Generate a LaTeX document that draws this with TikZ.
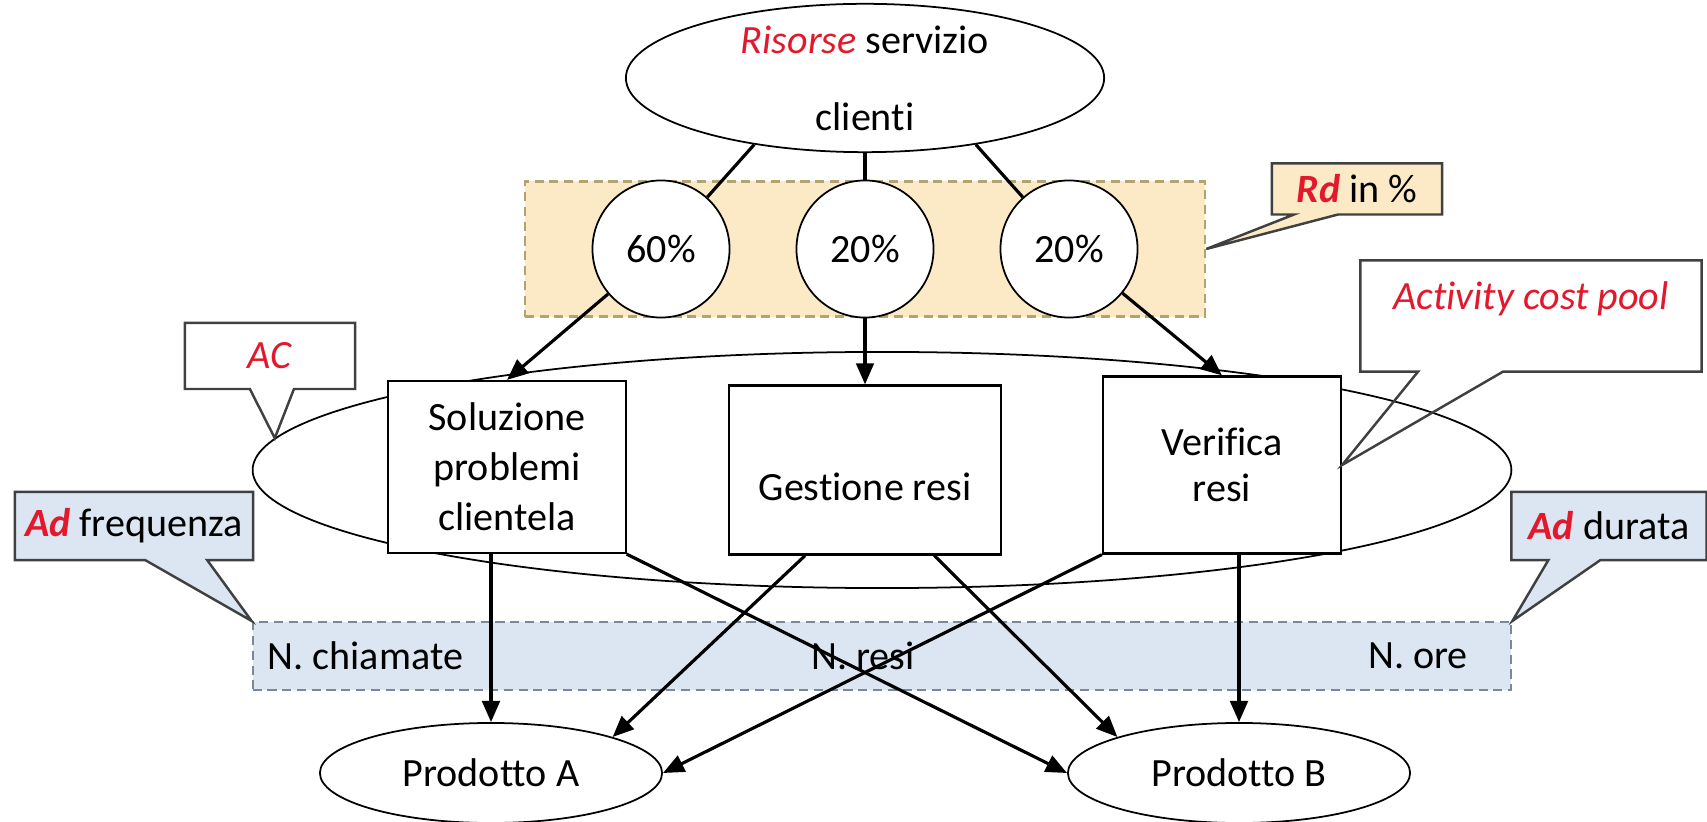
\documentclass[tikz,border=0pt]{standalone}
\usepackage{fontspec}
\setmainfont{Carlito}[Ligatures=NoCommon]
\usetikzlibrary{shapes.geometric,shapes.callouts,arrows.meta}
\definecolor{rossoabc}{RGB}{226,24,44}
\definecolor{giallord}{RGB}{252,234,198}
\definecolor{bordord}{RGB}{178,163,112}
\definecolor{azzurroad}{RGB}{220,230,242}
\definecolor{bordoad}{RGB}{122,136,154}
\definecolor{bordonota}{RGB}{64,64,64}
\begin{document}
\begin{tikzpicture}[x=0.01cm,y=-0.01cm,
		every node/.style={font=\fontsize{11.4}{14.2}\selectfont},
		risorsa/.style={draw,ellipse,line width=0.5pt,inner sep=0pt,align=center},
		perc/.style={draw,circle,fill=white,line width=0.5pt,inner sep=0pt,minimum size=1.37cm},
		attivita/.style={draw,fill=white,line width=0.6pt,inner sep=0pt,align=center},
		prodotto/.style={draw,ellipse,line width=0.5pt,inner sep=0pt,minimum width=3.42cm,minimum height=1cm},
		tratteggio/.style={dash pattern=on 2.6pt off 1.6pt,line width=0.6pt},
		nota/.style={rectangle callout,draw=bordonota,line width=0.7pt,inner sep=2pt},
		legame/.style={line width=0.9pt},
		freccia/.style={legame,-{Triangle[length=6pt,width=5pt]}}]
		\useasboundingbox (0,0) rectangle (1707,822);
		\node[risorsa,minimum width=4.78cm,minimum height=1.34cm] (res) at (865,78) {\textcolor{rossoabc}{\textit{Risorse}} servizio\\[7.7pt]clienti};
		\node[tratteggio,draw=bordord,fill=giallord,minimum width=6.8cm,minimum height=1.35cm] (rdbox) at (865,249) {};
		\node[perc] (c1) at (661,249) {60\%};
		\node[perc] (c2) at (865,249) {20\%};
		\node[perc] (c3) at (1069,249) {20\%};
		\node[draw,ellipse,line width=0.5pt,minimum width=12.58cm,minimum height=2.36cm] (acpool) at (882,470) {};
		\node[attivita,minimum width=2.37cm,minimum height=1.72cm] (sol) at (507,467) {Soluzione\\problemi\\clientela};
		\node[attivita,minimum width=2.72cm,minimum height=1.69cm,text height=0.6cm,text depth=0pt] (ges) at (865,470) {Gestione resi};
		\node[attivita,minimum width=2.38cm,minimum height=1.77cm] (ver) at (1222,465) {Verifica\\[-1pt]resi};
		\node[tratteggio,draw=bordoad,fill=azzurroad,minimum width=12.58cm,minimum height=0.68cm] (drvbox) at (882,656) {};
		\node[anchor=west,inner sep=0pt] (nchiam) at (267,656) {N. chiamate};
		\node[inner sep=0pt] (nresi) at (863,656) {N. resi};
		\node[inner sep=0pt] (nore) at (1418,656) {N. ore};
		\node[prodotto] (pA) at (491,773) {Prodotto A};
		\node[prodotto] (pB) at (1239,773) {Prodotto B};
		\draw[legame] (res.211) -- (c1);
		\draw[legame] (res.south) -- (c2);
		\draw[legame] (res.-31) -- (c3);
		\draw[freccia] (c1) -- (sol.north);
		\draw[freccia] (c2) -- (ges.north);
		\draw[freccia] (c3) -- (ver.north);
		\draw[freccia] (sol.south -| pA.north) -- (pA.north);
		\draw[freccia] (sol.south east) -- (pB.west);
		\draw[freccia] (ges.-125) -- (pA.north east);
		\draw[freccia] (ges.-51) -- (pB.north west);
		\draw[freccia] (ver.south west) -- (pA.east);
		\draw[freccia] (ver.south -| pB.north) -- (pB.north);
		\node[nota,fill=giallord,minimum width=1.7cm,minimum height=0.51cm,callout pointer width=0.44cm,callout absolute pointer={(rdbox.east)}] (rdnota) at (1357,189) {\textcolor{rossoabc}{\textbf{\textit{Rd}}} in \%};
		\node[nota,minimum width=1.7cm,minimum height=0.66cm,callout pointer width=0.44cm,callout absolute pointer={(acpool.177)}] (acnota) at (270,356) {\textcolor{rossoabc}{\textit{AC}}};
		\node[nota,fill=azzurroad,minimum width=2.38cm,minimum height=0.68cm,callout pointer width=0.62cm,callout absolute pointer={(drvbox.north west)}] (adfreq) at (134,526) {\textcolor{rossoabc}{\textbf{\textit{Ad}}} frequenza};
		\node[nota,fill=azzurroad,minimum width=1.95cm,minimum height=0.68cm,callout pointer width=0.52cm,callout absolute pointer={(drvbox.north east)}] (addur) at (1609,526) {\textcolor{rossoabc}{\textbf{\textit{Ad}}} durata};
		\node[nota,minimum width=3.41cm,minimum height=1.11cm,text depth=0.4cm,callout pointer width=0.85cm,callout absolute pointer={(ver.east)}] (acpnota) at (1531,316) {\textcolor{rossoabc}{\textit{Activity cost pool}}};
\end{tikzpicture}
\end{document}
